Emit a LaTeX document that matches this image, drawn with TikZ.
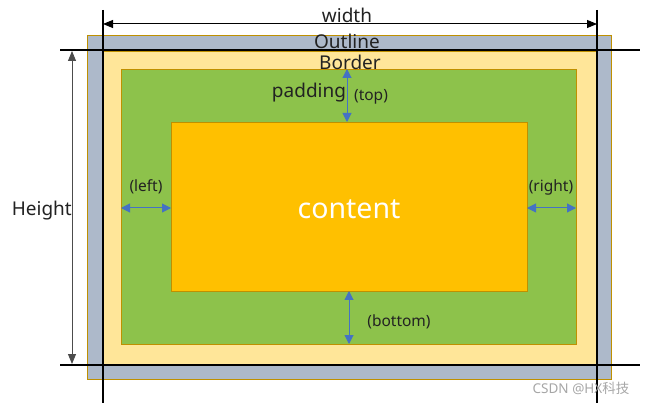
\documentclass[tikz,border=0pt]{standalone}
\usepackage{fontspec}
\setmainfont{Noto Sans}
\newfontfamily\cjk{Noto Sans CJK SC}
\usetikzlibrary{arrows.meta}
\definecolor{outlinegrey}{HTML}{ADB9CA}
\definecolor{borderyel}{HTML}{FFE699}
\definecolor{padgreen}{HTML}{8DC24B}
\definecolor{contorange}{HTML}{FFC000}
\definecolor{edgegold}{HTML}{BF9000}
\definecolor{arrowblue}{HTML}{4472C4}
\definecolor{txt}{HTML}{222222}
\tikzset{
  layer/.style={draw=edgegold, line width=0.9pt},
  guide/.style={draw=black, line width=1.4pt},
  dimarrow/.style={draw=black, line width=1pt, {Triangle[width=8pt,length=10pt]}-{Triangle[width=8pt,length=10pt]}},
  padarrow/.style={draw=arrowblue, line width=1pt, {Triangle[width=9pt,length=9pt]}-{Triangle[width=9pt,length=9pt]}},
  bigtxt/.style={font=\fontsize{19}{21}\selectfont, text=txt, inner sep=0pt},
  smalltxt/.style={font=\fontsize{15.5}{17}\selectfont, text=txt, inner sep=0pt},
}
\begin{document}
\begin{tikzpicture}[x=1pt,y=-1pt]
\useasboundingbox (0,0) rectangle (645,403);
% layers
\fill[layer, fill=outlinegrey] (87,35) rectangle (611,379);
\fill[layer, fill=borderyel] (103,51) rectangle (597,364);
\fill[layer, fill=padgreen] (121,69) rectangle (576,344);
\node[layer, fill=contorange, minimum width=356pt, minimum height=169pt, anchor=north west, inner sep=0pt] (content) at (171,122) {};
\node[font=\fontsize{28.5}{32}\selectfont, text=white, inner sep=0pt] at (349,209) {content};
% guide lines
\coordinate (vlt) at (103,10); \coordinate (vlb) at (103,403);
\coordinate (vrt) at (597,10); \coordinate (vrb) at (597,403);
\coordinate (hlt1) at (60,50); \coordinate (hlt2) at (640,50);
\coordinate (hlb1) at (60,365); \coordinate (hlb2) at (640,365);
\draw[guide] (vlt) -- (vlb);
\draw[guide] (vrt) -- (vrb);
\draw[guide] (hlt1) -- (hlt2);
\draw[guide] (hlb1) -- (hlb2);
% width arrow
\coordinate (wl) at (103,24); \coordinate (wr) at (597,24);
\draw[dimarrow] (wl) -- (wr);
\node[bigtxt] (wlabel) at (347,15) {width};
% height arrow
\coordinate (ht) at (72,51); \coordinate (hb) at (72,364);
\draw[dimarrow, draw=black!70, fill=black] (ht) -- (hb);
\node[bigtxt, anchor=east] (hlabel) at (72,211) {Height};
% labels
\node[bigtxt] (outl) at (347,41) {Outline};
\node[bigtxt] (bord) at (350,62) {Border};
\node[bigtxt] (padl) at (309,93) {padding};
\node[smalltxt] (topl) at (371,97) {(top)};
\node[smalltxt] (botl) at (399,322) {(bottom)};
\node[smalltxt] (leftl) at (146,187) {(left)};
\node[smalltxt] (rightl) at (551,187) {(right)};
% padding arrows
\coordinate (pt1) at (347,69); \coordinate (pt2) at (347,122);
\coordinate (pb1) at (349,291); \coordinate (pb2) at (349,344);
\coordinate (pl1) at (121,208); \coordinate (pl2) at (171,208);
\coordinate (pr1) at (527,208); \coordinate (pr2) at (576,208);
\draw[padarrow] (pt1) -- (pt2);
\draw[padarrow] (pb1) -- (pb2);
\draw[padarrow] (pl1) -- (pl2);
\draw[padarrow] (pr1) -- (pr2);
% watermark
\node[font=\fontsize{13.5}{15}\selectfont, text=black!35, inner sep=0pt] (wm) at (581,388) {CSDN @HX{\cjk 科技}};
\end{tikzpicture}
\end{document}
